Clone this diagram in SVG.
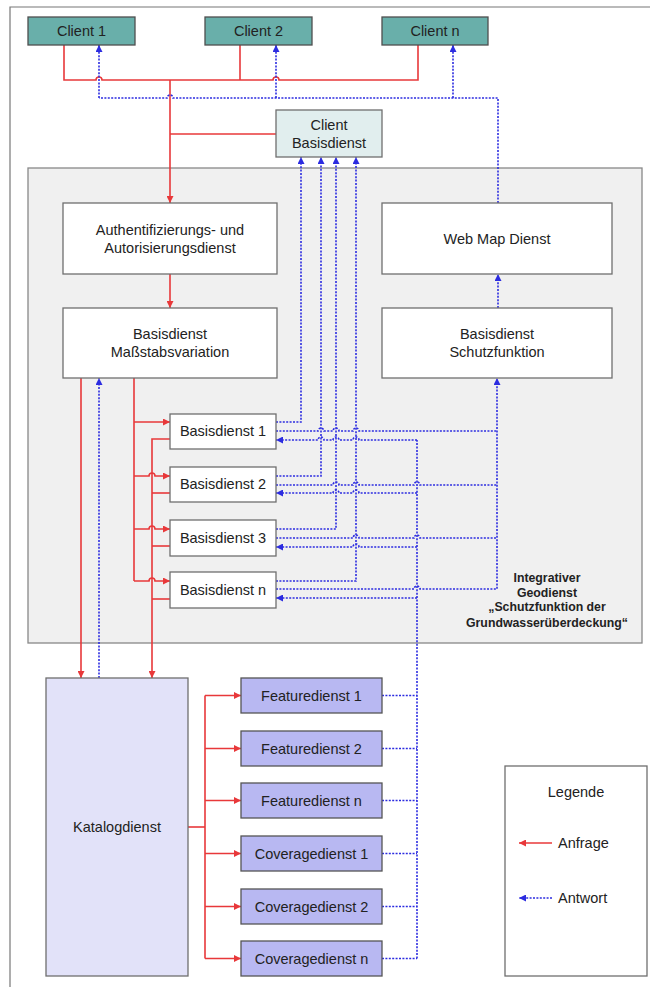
<svg xmlns="http://www.w3.org/2000/svg" width="650" height="987" viewBox="0 0 650 987">
<defs>
<style>
text{font-family:"Liberation Sans",Arial,sans-serif;font-size:14.5px;fill:#222;text-anchor:middle}
.box{fill:#fff;stroke:#6f6f6f;stroke-width:1.3}
.client{fill:#69afaa;stroke:#4f4f4f;stroke-width:1.3}
.cbd{fill:#e1eeee;stroke:#6f6f6f;stroke-width:1.3}
.kat{fill:#e2e2f9;stroke:#6f6f6f;stroke-width:1.3}
.feat{fill:#b8b8f2;stroke:#555;stroke-width:1.3}
.red{fill:none;stroke:#e8383a;stroke-width:1.6}
.blue{fill:none;stroke:#2c2ce0;stroke-width:1.6;stroke-dasharray:2 1.4}
.bold{font-weight:bold;font-size:12.3px}
</style>
<marker id="ar" viewBox="0 0 7 7" refX="7" refY="3.5" markerWidth="7" markerHeight="7" markerUnits="userSpaceOnUse" orient="auto"><path d="M0,0 L7,3.5 L0,7 z" fill="#e8383a"/></marker>
<marker id="ab" viewBox="0 0 7 7" refX="7" refY="3.5" markerWidth="7" markerHeight="7" markerUnits="userSpaceOnUse" orient="auto"><path d="M0,0 L7,3.5 L0,7 z" fill="#2c2ce0"/></marker>
</defs>

<path d="M10,987 V7 H650" fill="none" stroke="#777" stroke-width="1.2"/>

<g id="container">
<rect x="28" y="168" width="614" height="475" fill="#f0f0f0" stroke="#888" stroke-width="1.3"/>
<text class="bold" x="547" y="582">Integrativer</text>
<text class="bold" x="547" y="597">Geodienst</text>
<text class="bold" x="547" y="611">„Schutzfunktion der</text>
<text class="bold" x="547" y="627">Grundwasserüberdeckung“</text>
</g>

<g id="connectors">
<!-- red requests top -->
<path class="red" d="M64,45 V80 H96 A3,3 0 0 1 102,80 H273 A3,3 0 0 1 279,80 H418 V45"/>
<path class="red" d="M240,45 V80"/>
<path class="red" d="M170,80 V203" marker-end="url(#ar)"/>
<path class="red" d="M170,134 H276"/>
<path class="red" d="M170,274 V308" marker-end="url(#ar)"/>
<path class="red" d="M81,378 V678" marker-end="url(#ar)"/>
<path class="red" d="M134,378 V581"/>
<path class="red" d="M134,422 H170" marker-end="url(#ar)"/>
<path class="red" d="M134,476 H149 A3,3 0 0 1 155,476 H170" marker-end="url(#ar)"/>
<path class="red" d="M134,529 H149 A3,3 0 0 1 155,529 H170" marker-end="url(#ar)"/>
<path class="red" d="M134,581 H149 A3,3 0 0 1 155,581 H170" marker-end="url(#ar)"/>
<path class="red" d="M170,439 H152 V678" marker-end="url(#ar)"/>
<path class="red" d="M170,493 H152"/>
<path class="red" d="M170,546 H152"/>
<path class="red" d="M170,599 H152"/>
<!-- red catalog -->
<path class="red" d="M188,827 H205"/>
<path class="red" d="M205,695.5 V958.5"/>
<path class="red" d="M205,695.5 H241" marker-end="url(#ar)"/>
<path class="red" d="M205,748.5 H241" marker-end="url(#ar)"/>
<path class="red" d="M205,800.5 H241" marker-end="url(#ar)"/>
<path class="red" d="M205,853.5 H241" marker-end="url(#ar)"/>
<path class="red" d="M205,906.5 H241" marker-end="url(#ar)"/>
<path class="red" d="M205,958.5 H241" marker-end="url(#ar)"/>

<!-- blue responses top -->
<path class="blue" d="M498,203 V98 H173 A3,3 0 0 0 167,98 H99"/>
<path class="blue" d="M99,98 V45" marker-end="url(#ab)"/>
<path class="blue" d="M276,98 V45" marker-end="url(#ab)"/>
<path class="blue" d="M453,98 V45" marker-end="url(#ab)"/>
<path class="blue" d="M498,308 V274" marker-end="url(#ab)"/>
<path class="blue" d="M99,678 V378" marker-end="url(#ab)"/>
<!-- basisdienst tops to client basisdienst -->
<path class="blue" d="M276,422 H301 V157" marker-end="url(#ab)"/>
<path class="blue" d="M276,476 H321 V157" marker-end="url(#ab)"/>
<path class="blue" d="M276,529 H336 V157" marker-end="url(#ab)"/>
<path class="blue" d="M276,581 H356 V157" marker-end="url(#ab)"/>
<!-- mid lines to Schutzfunktion -->
<path class="blue" d="M276,431 H318 A3,3 0 0 1 324,431 H333 A3,3 0 0 1 339,431 H353 A3,3 0 0 1 359,431 H497"/>
<path class="blue" d="M276,485 H333 A3,3 0 0 1 339,485 H353 A3,3 0 0 1 359,485 H414 A3,3 0 0 1 420,485 H497"/>
<path class="blue" d="M276,538 H353 A3,3 0 0 1 359,538 H414 A3,3 0 0 1 420,538 H497"/>
<path class="blue" d="M276,589 H414 A3,3 0 0 1 420,589 H497 V378" marker-end="url(#ab)"/>
<!-- bottom lines from catalog column -->
<path class="blue" d="M417,440 H359 A3,3 0 0 0 353,440 H339 A3,3 0 0 0 333,440 H324 A3,3 0 0 0 318,440 H276" marker-end="url(#ab)"/>
<path class="blue" d="M417,493 H359 A3,3 0 0 0 353,493 H339 A3,3 0 0 0 333,493 H276" marker-end="url(#ab)"/>
<path class="blue" d="M417,547 H359 A3,3 0 0 0 353,547 H276" marker-end="url(#ab)"/>
<path class="blue" d="M417,598 H276" marker-end="url(#ab)"/>
<path class="blue" d="M417,958.5 V440"/>
<path class="blue" d="M382,695.5 H417"/>
<path class="blue" d="M382,748.5 H417"/>
<path class="blue" d="M382,800.5 H417"/>
<path class="blue" d="M382,853.5 H417"/>
<path class="blue" d="M382,906.5 H417"/>
<path class="blue" d="M382,958.5 H417"/>
</g>

<g id="client1"><rect class="client" x="28" y="17" width="107" height="28"/><text x="81.5" y="36">Client 1</text></g>
<g id="client2"><rect class="client" x="205" y="17" width="107" height="28"/><text x="258.5" y="36">Client 2</text></g>
<g id="clientn"><rect class="client" x="382" y="17" width="106" height="28"/><text x="435" y="36">Client n</text></g>
<g id="client-basisdienst"><rect class="cbd" x="276" y="110" width="106" height="47"/><text x="329" y="130">Client</text><text x="329" y="148">Basisdienst</text></g>

<g id="auth"><rect class="box" x="63" y="203" width="214" height="71"/><text x="170" y="235">Authentifizierungs- und</text><text x="170" y="253">Autorisierungsdienst</text></g>
<g id="webmap"><rect class="box" x="382" y="203" width="230" height="71"/><text x="497" y="244">Web Map Dienst</text></g>
<g id="massstab"><rect class="box" x="63" y="308" width="214" height="70"/><text x="170" y="339">Basisdienst</text><text x="170" y="357">Maßstabsvariation</text></g>
<g id="schutz"><rect class="box" x="382" y="308" width="230" height="70"/><text x="497" y="339">Basisdienst</text><text x="497" y="357">Schutzfunktion</text></g>

<g id="bd1"><rect class="box" x="170" y="414" width="106" height="35"/><text x="223" y="436">Basisdienst 1</text></g>
<g id="bd2"><rect class="box" x="170" y="467" width="106" height="35"/><text x="223" y="489">Basisdienst 2</text></g>
<g id="bd3"><rect class="box" x="170" y="520" width="106" height="36"/><text x="223" y="543">Basisdienst 3</text></g>
<g id="bdn"><rect class="box" x="170" y="572" width="106" height="36"/><text x="223" y="595">Basisdienst n</text></g>

<g id="katalog"><rect class="kat" x="46" y="678" width="142" height="298"/><text x="117" y="832">Katalogdienst</text></g>

<g id="fd1"><rect class="feat" x="241" y="678" width="141" height="35"/><text x="311.5" y="700.5">Featuredienst 1</text></g>
<g id="fd2"><rect class="feat" x="241" y="731" width="141" height="35"/><text x="311.5" y="753.5">Featuredienst 2</text></g>
<g id="fdn"><rect class="feat" x="241" y="783" width="141" height="35"/><text x="311.5" y="805.5">Featuredienst n</text></g>
<g id="cd1"><rect class="feat" x="241" y="836" width="141" height="35"/><text x="311.5" y="858.5">Coveragedienst 1</text></g>
<g id="cd2"><rect class="feat" x="241" y="889" width="141" height="35"/><text x="311.5" y="911.5">Coveragedienst 2</text></g>
<g id="cdn"><rect class="feat" x="241" y="941" width="141" height="35"/><text x="311.5" y="963.5">Coveragedienst n</text></g>

<g id="legend">
<rect class="box" x="505" y="766" width="142" height="210"/>
<text x="576" y="797">Legende</text>
<path class="red" d="M552,843 H519" marker-end="url(#ar)"/>
<text x="558" y="848" style="text-anchor:start">Anfrage</text>
<path class="blue" d="M552,898 H519" marker-end="url(#ab)"/>
<text x="558" y="903" style="text-anchor:start">Antwort</text>
</g>
</svg>
